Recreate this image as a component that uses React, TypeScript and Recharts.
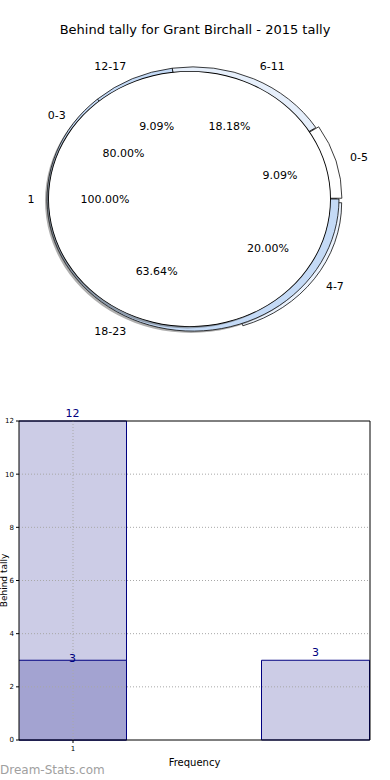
import { PieChart, Pie, Cell, BarChart, Bar, XAxis, YAxis, LabelList, ReferenceLine } from 'recharts';

// pie layers (inner -> outer)
const innerNames = ['1'];
const innerCounts = [15];
const quarterNames = ['0-3', '4-7'];
const quarterCounts = [12, 3];
const hourNames = ['0-5', '6-11', '12-17', '18-23'];
const hourCounts = [1, 2, 1, 7];

// histogram
const binX = [1, 2.8];
const binTicks = [1];
const totalCounts = [12, 3];
const overlayCounts = [3, null];
const yTicks = [0, 2, 4, 6, 8, 10, 12];

const FONT = '"DejaVu Sans", Verdana, sans-serif';
const SQUASH = 0.905; // pie is drawn a bit flattened
const CY = 199;
const RAD = Math.PI / 180;

type Ring = {
  names: string[];
  counts: number[];
  colors: string[];
  explode: number[];
  cx: number;
  r: number;
  key: string;
};

const rings: Ring[] = [
  { key: 'q', names: quarterNames, counts: quarterCounts, colors: ['#ffffff', '#eaf2fd'], explode: [0, 7], cx: 193, r: 143 },
  { key: 'h', names: hourNames, counts: hourCounts, colors: ['#ffffff', '#e6effb', '#c4daf6', '#c4daf6'], explode: [3, 0, 0, 0], cx: 193, r: 146 },
  { key: 'i', names: innerNames, counts: innerCounts, colors: ['#ffffff'], explode: [0], cx: 189.5, r: 141 },
];

function midAngle(counts: number[], i: number) {
  const total = counts.reduce((a, b) => a + b, 0);
  const before = counts.slice(0, i).reduce((a, b) => a + b, 0);
  return ((before + counts[i] / 2) / total) * 360;
}

// keeps text upright inside the squashed wrapper
function upright(y: number) {
  return `translate(0 ${y}) scale(1 ${1 / SQUASH}) translate(0 ${-y})`;
}

const sliceLabel = (show: (i: number) => boolean) => (p: any) => {
  if (!show(p.index)) return null;
  const a = -p.midAngle * RAD;
  const cos = Math.cos(a);
  const sin = Math.sin(a);
  const nx = p.cx + p.outerRadius * 1.1 * cos;
  const ny = p.cy + p.outerRadius * 1.1 * sin;
  const px = p.cx + p.outerRadius * 0.6 * cos;
  const py = p.cy + p.outerRadius * 0.6 * sin;
  return (
    <g>
      <text x={nx} y={ny} transform={upright(ny)} textAnchor={cos >= 0 ? 'start' : 'end'} dominantBaseline="central" fontSize={11} fontFamily={FONT} fill="#000">
        {p.name}
      </text>
      <text x={px} y={py} transform={upright(py)} textAnchor="middle" dominantBaseline="central" fontSize={11} fontFamily={FONT} fill="#000">
        {(p.percent * 100).toFixed(2)}%
      </text>
    </g>
  );
};

function ringPies(ring: Ring) {
  const rows = ring.names.map((name, i) => ({ name, value: ring.counts[i] }));
  const single = rows.length === 1;
  const out = [
    <Pie
      key={ring.key + '-shadow'}
      data={[{ name: 's', value: 1 }]}
      dataKey="value"
      cx={ring.cx - 2}
      cy={CY + 2}
      outerRadius={ring.r}
      startAngle={0}
      endAngle={360}
      stroke="none"
      fill="#4d4d4d"
      fillOpacity={0.45}
      isAnimationActive={false}
    />,
    <Pie
      key={ring.key}
      data={rows}
      dataKey="value"
      nameKey="name"
      cx={ring.cx}
      cy={CY}
      outerRadius={ring.r}
      startAngle={0}
      endAngle={360}
      stroke="#000"
      strokeWidth={0.8}
      labelLine={false}
      label={sliceLabel((i) => ring.explode[i] === 0)}
      isAnimationActive={false}
    >
      {rows.map((_, i) => (
        <Cell
          key={i}
          fill={ring.explode[i] === 0 ? ring.colors[i] : 'none'}
          stroke={ring.explode[i] === 0 && !single ? '#000' : 'none'}
        />
      ))}
    </Pie>,
  ];
  if (single) {
    // a full wedge would show a radius line, so outline it with a hairline ring
    out.push(
      <Pie
        key={ring.key + '-edge'}
        data={[{ name: 'edge', value: 1 }]}
        dataKey="value"
        cx={ring.cx}
        cy={CY}
        innerRadius={ring.r - 0.45}
        outerRadius={ring.r + 0.45}
        startAngle={0}
        endAngle={360}
        stroke="none"
        fill="#000"
        isAnimationActive={false}
      />
    );
  }
  ring.explode.forEach((d, j) => {
    if (d === 0) return;
    const a = midAngle(ring.counts, j) * RAD;
    out.push(
      <Pie
        key={ring.key + '-ex' + j}
        data={rows}
        dataKey="value"
        nameKey="name"
        cx={ring.cx + d * Math.cos(a)}
        cy={CY - d * Math.sin(a)}
        outerRadius={ring.r}
        startAngle={0}
        endAngle={360}
        strokeWidth={0.8}
        labelLine={false}
        label={sliceLabel((i) => i === j)}
        isAnimationActive={false}
      >
        {rows.map((_, i) => (
          <Cell key={i} fill={i === j ? ring.colors[i] : 'none'} stroke={i === j ? '#000' : 'none'} />
        ))}
      </Pie>
    );
  });
  return out;
}

const histRows = binX.map((x, i) => ({ x, total: totalCounts[i], overlay: overlayCounts[i] }));
const GRID = { stroke: '#a8a8a8', strokeDasharray: '1 2', strokeWidth: 1 };

export default function App() {
  return (
    <div style={{ position: 'absolute', left: 0, top: 0, width: 390, height: 780, background: '#fff', fontFamily: FONT, overflow: 'hidden' }}>
      <div style={{ position: 'absolute', left: 0, top: 22, width: 390, textAlign: 'center', fontSize: 13, color: '#000' }}>
        Behind tally for Grant Birchall - 2015 tally
      </div>

      <div style={{ position: 'absolute', left: 0, top: 0, width: 390, height: 380, transform: `scaleY(${SQUASH})`, transformOrigin: `0px ${CY}px` }}>
        <PieChart width={390} height={380} margin={{ top: 0, right: 0, bottom: 0, left: 0 }}>
          {rings.flatMap(ringPies)}
        </PieChart>
      </div>

      <div style={{ position: 'absolute', left: 0, top: 400 }}>
        <BarChart width={390} height={370} data={histRows} margin={{ top: 21, right: 20, bottom: 0, left: 0 }} barSize={108} barGap={-108}>
          <XAxis
            dataKey="x"
            type="number"
            domain={[0.6, 3.2]}
            ticks={binTicks}
            allowDataOverflow
            height={30}
            tickSize={3}
            tickMargin={3}
            tick={{ fontSize: 7, fill: '#000', fontFamily: FONT }}
            stroke="#000"
            label={{ value: 'Frequency', position: 'insideBottom', offset: 4, fontSize: 10, fill: '#000', fontFamily: FONT }}
          />
          <YAxis
            domain={[0, 12]}
            ticks={yTicks}
            width={19}
            tickSize={3}
            tick={{ fontSize: 7, fill: '#000', fontFamily: FONT }}
            stroke="#000"
            label={{
              content: (props: any) => {
                const vb = props.viewBox || { x: 0, y: 21, height: 319 };
                const y = vb.y + vb.height / 2;
                return (
                  <text x={4} y={y} transform={`rotate(-90 4 ${y})`} textAnchor="middle" dominantBaseline="central" fontSize={9} fontFamily={FONT} fill="#000">
                    Behind tally
                  </text>
                );
              },
            }}
          />
          <Bar dataKey="total" fill="#ccccE6" stroke="#000080" strokeWidth={1} isAnimationActive={false}>
            <LabelList dataKey="total" position="top" offset={4} fill="#000080" fontSize={11} fontFamily={FONT} />
          </Bar>
          <Bar dataKey="overlay" fill="#a3a3d1" stroke="#000080" strokeWidth={1} isAnimationActive={false}>
            <LabelList dataKey="overlay" position="top" offset={-2} fill="#000080" fontSize={11} fontFamily={FONT} />
          </Bar>
          {yTicks.slice(1, -1).map((t) => (
            <ReferenceLine key={'gy' + t} y={t} {...GRID} />
          ))}
          {binTicks.map((t) => (
            <ReferenceLine key={'gx' + t} x={t} {...GRID} />
          ))}
          <ReferenceLine y={12} stroke="#000" />
          <ReferenceLine x={3.2} stroke="#000" />
        </BarChart>
      </div>

      <div style={{ position: 'absolute', left: 0, top: 763, fontSize: 12, color: '#a0a0a0', fontFamily: FONT }}>Dream-Stats.com</div>
    </div>
  );
}
